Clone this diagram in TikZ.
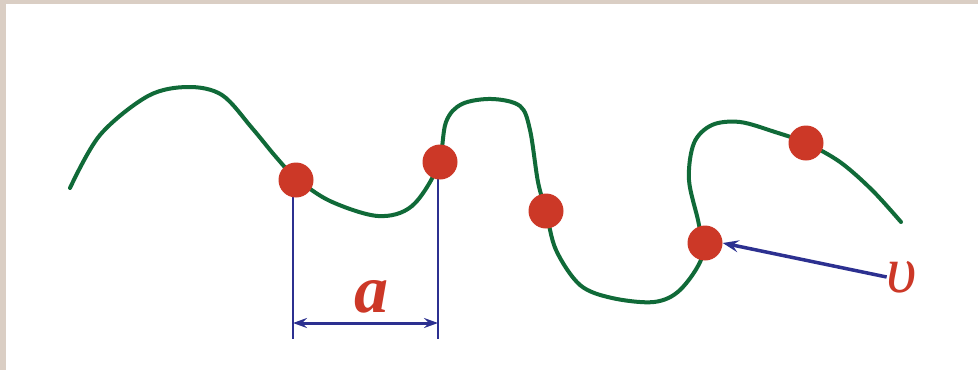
\documentclass[tikz,border=0pt]{standalone}
\usepackage{fontspec}
\setmainfont{Liberation Serif}
\usetikzlibrary{arrows.meta}
\definecolor{frame}{RGB}{218,206,196}
\definecolor{curvegreen}{RGB}{16,106,56}
\definecolor{dotred}{RGB}{204,56,39}
\definecolor{dimblue}{RGB}{44,48,144}
\begin{document}
\begin{tikzpicture}[x=1pt,y=-1pt,
  dot/.style={circle,fill=dotred,inner sep=0pt,minimum size=35pt},
  dimline/.style={draw=dimblue,line width=2.4pt},
  dimarrow/.style={draw=dimblue,line width=3pt,{Stealth[length=14pt,width=10pt,inset=5pt]}-{Stealth[length=14pt,width=10pt,inset=5pt]}},
  ptrarrow/.style={draw=dimblue,line width=3.5pt,-{Stealth[length=16pt,width=12pt,inset=6pt]}},
  lbl/.style={text=dotred,inner sep=0pt}]
\useasboundingbox (0,0) rectangle (978,370);
\fill[frame] (0,0) rectangle (978,370);
\fill[white] (6,4) rectangle (978,370);
% curve
\draw[curvegreen,line width=4pt,line cap=round] plot[smooth,tension=0.55] coordinates {
 (70,188) (100,135) (148,96) (188,87) (222,95) (252,128) (276,157) (296,178)
 (330,201) (378,216) (412,206) (438,166)
 (446,122) (462,104) (492,99) (520,106) (530,130) (538,182) (546,211)
 (556,250) (580,285) (612,298) (654,302) (680,290) (702,257)
 (699,225) (689,180) (694,143) (712,125) (740,122) (775,132) (806,143)
 (840,162) (872,190) (901,222)};
% dimension lines (under the dots)
\coordinate (b1) at (293,339);
\coordinate (b2) at (438,339);
\coordinate (t1) at (293,180);
\coordinate (t2) at (438,162);
\coordinate (a1) at (293,323);
\coordinate (a2) at (438,323);
\draw[dimline] (t1) -- (b1);
\draw[dimline] (t2) -- (b2);
% dots
\node[dot] (d1) at (296,180) {};
\node[dot] (d2) at (440,162) {};
\node[dot] (d3) at (546,211) {};
\node[dot] (d4) at (705,243) {};
\node[dot] (d5) at (806,143) {};
\draw[dimarrow] (a1) -- (a2);
\node[lbl,font=\fontsize{68}{68}\selectfont\bfseries\itshape] (la) at (371,297) {a};
% upsilon
\node[lbl,font=\fontsize{66}{66}\selectfont\itshape] (lu) at (902,277) {υ};
\draw[ptrarrow] (lu.west) -- (d4.east);
\end{tikzpicture}
\end{document}
